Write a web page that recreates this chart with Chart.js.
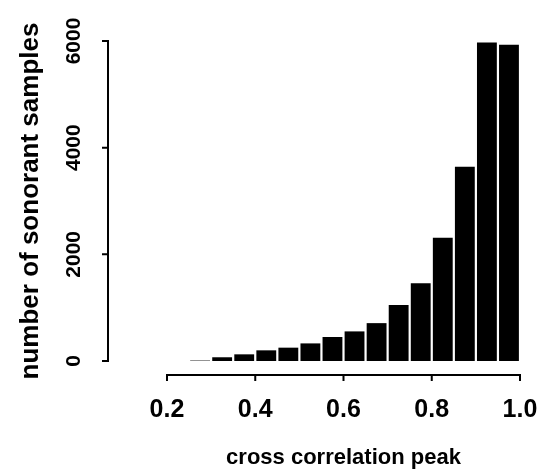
<!DOCTYPE html>
<html>
<head>
<meta charset="utf-8">
<script src="https://cdn.jsdelivr.net/npm/chart.js@4/dist/chart.umd.min.js"></script>
<style>
  body { margin: 0; background: #fff; }
</style>
</head>
<body>
<canvas id="hist" width="542" height="475"></canvas>
<script>
// bin centres (bin width 0.05) and counts
var binCenters = [0.275, 0.325, 0.375, 0.425, 0.475, 0.525, 0.575, 0.625, 0.675, 0.725, 0.775, 0.825, 0.875, 0.925, 0.975];
var sampleCounts = [8, 70, 125, 200, 250, 330, 450, 555, 710, 1050, 1460, 2310, 3640, 5970, 5930];

var xTicks = [0.2, 0.4, 0.6, 0.8, 1.0];
var xTickLabels = ['0.2', '0.4', '0.6', '0.8', '1.0'];
var yTicks = [0, 2000, 4000, 6000];
var yTickLabels = ['0', '2000', '4000', '6000'];

// R style detached axes: where they sit, in data units of the other scale
var yAxisAtX = 0.0663;
var xAxisAtY = -262;

var font = 'Liberation Sans, Arial, Helvetica, sans-serif';

var rAxes = {
  id: 'rAxes',
  afterDraw: function(chart) {
    var ctx = chart.ctx;
    var x = chart.scales.x;
    var y = chart.scales.y;
    var ax = x.getPixelForValue(yAxisAtX);
    var ay = y.getPixelForValue(xAxisAtY);

    ctx.save();
    ctx.strokeStyle = '#000';
    ctx.lineWidth = 2;
    ctx.lineCap = 'square';

    // y axis
    ctx.beginPath();
    ctx.moveTo(ax, y.getPixelForValue(yTicks[0]));
    ctx.lineTo(ax, y.getPixelForValue(yTicks[yTicks.length - 1]));
    y.ticks.forEach(function(t) {
      var py = y.getPixelForValue(t.value);
      ctx.moveTo(ax, py);
      ctx.lineTo(ax - 5, py);
    });
    ctx.stroke();

    // x axis
    ctx.beginPath();
    ctx.moveTo(x.getPixelForValue(xTicks[0]), ay);
    ctx.lineTo(x.getPixelForValue(xTicks[xTicks.length - 1]), ay);
    x.ticks.forEach(function(t) {
      var px = x.getPixelForValue(t.value);
      ctx.moveTo(px, ay);
      ctx.lineTo(px, ay + 5);
    });
    ctx.stroke();
    ctx.restore();
  }
};

// keep the plot box where the layout padding puts it
function noScalePadding(s) {
  s.paddingTop = 0;
  s.paddingBottom = 0;
  s.paddingLeft = 0;
  s.paddingRight = 0;
}

var data = [];
for (var i = 0; i < binCenters.length; i++) {
  data.push({ x: binCenters[i], y: sampleCounts[i] });
}

new Chart(document.getElementById('hist'), {
  type: 'bar',
  data: {
    datasets: [{
      data: data,
      backgroundColor: '#000',
      borderWidth: 0,
      barPercentage: 0.9,
      categoryPercentage: 1.0
    }]
  },
  options: {
    responsive: false,
    animation: false,
    devicePixelRatio: 1,
    layout: { padding: { top: 41, right: 22, bottom: 0, left: 0 } },
    plugins: { legend: { display: false }, tooltip: { enabled: false } },
    scales: {
      x: {
        type: 'linear',
        offset: false,
        min: 0.2,
        max: 1.0,
        grid: { display: false, drawTicks: false, offset: false },
        border: { display: false },
        afterBuildTicks: function(s) {
          s.ticks = xTicks.map(function(v) { return { value: v }; });
        },
        afterFit: function(s) {
          s.height = 114;
          noScalePadding(s);
        },
        ticks: {
          autoSkip: false,
          maxRotation: 0,
          minRotation: 0,
          padding: 34,
          color: '#000',
          font: { family: font, size: 25, weight: 'bold' },
          callback: function(v, idx) { return xTickLabels[idx]; }
        },
        title: {
          display: true,
          text: 'cross correlation peak',
          color: '#000',
          font: { family: font, size: 22, weight: 'bold' },
          padding: { top: 0, bottom: 4 }
        }
      },
      y: {
        min: 0,
        max: 6000,
        grid: { display: false, drawTicks: false },
        border: { display: false },
        afterBuildTicks: function(s) {
          s.ticks = yTicks.map(function(v) { return { value: v }; });
        },
        afterFit: function(s) {
          s.width = 167;
          noScalePadding(s);
        },
        ticks: {
          autoSkip: false,
          minRotation: 90,
          maxRotation: 90,
          crossAlign: 'center',
          padding: 69,
          color: '#000',
          font: { family: font, size: 21, weight: 'bold' },
          callback: function(v, idx) { return yTickLabels[idx]; }
        },
        title: {
          display: true,
          text: 'number of sonorant samples',
          color: '#000',
          font: { family: font, size: 26, weight: 'bold' },
          padding: { top: 15, bottom: 0 }
        }
      }
    }
  },
  plugins: [rAxes]
});
</script>
</body>
</html>
